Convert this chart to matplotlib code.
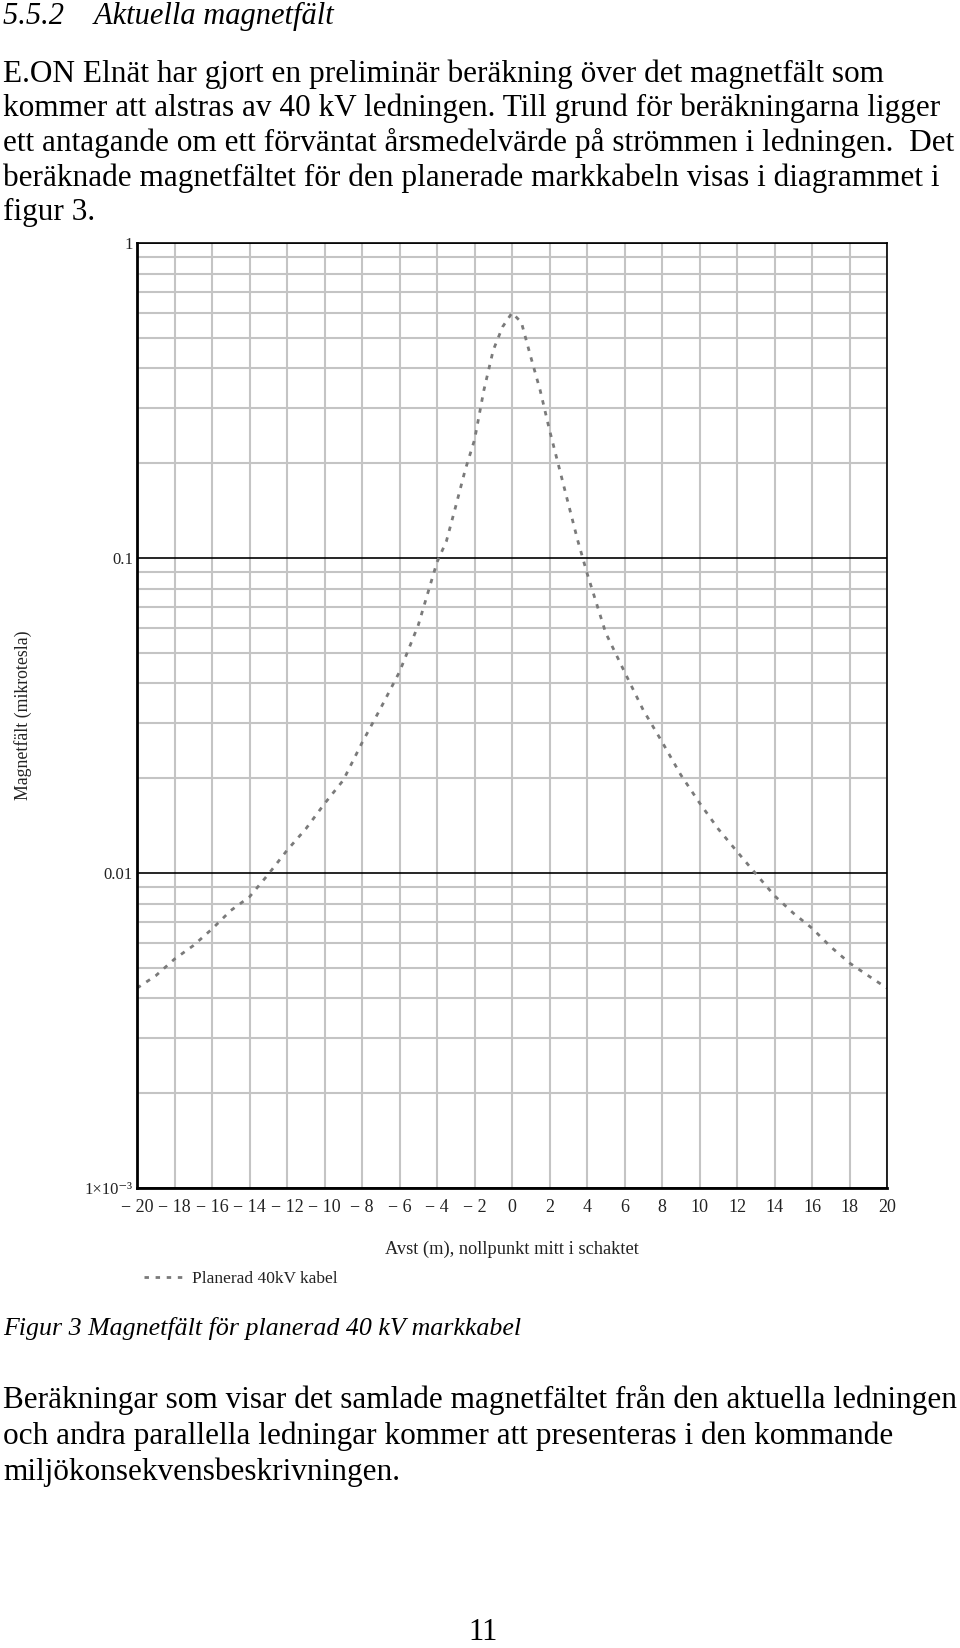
import matplotlib.pyplot as plt
from matplotlib.ticker import FixedLocator, LogLocator, NullFormatter

# Avstånd (m) och magnetfält (mikrotesla)
avst = [-20, -19, -18, -17, -16, -15, -14, -13, -12, -11, -10, -9, -8, -7, -6, -5, -4,
        -3.5, -3, -2.5, -2, -1.5, -1, -0.5, 0, 0.5, 1, 1.5, 2, 2.5, 3, 3.5,
        4, 5, 6, 7, 8, 9, 10, 11, 12, 13, 14, 15, 16, 17, 18, 19, 20]
falt = [0.00431, 0.00472, 0.00533, 0.00588, 0.00664, 0.0076, 0.0084, 0.0099, 0.0118,
        0.0138, 0.0166, 0.0197, 0.0259, 0.0334, 0.0435, 0.0612, 0.097,
        0.113, 0.146, 0.19, 0.237, 0.341, 0.457, 0.542, 0.6, 0.56, 0.435, 0.341,
        0.255, 0.195, 0.149, 0.114,
        0.0896, 0.0578, 0.0435, 0.0329, 0.0261, 0.0205, 0.0167, 0.0138, 0.0117,
        0.00995, 0.00847, 0.00746, 0.00668, 0.00583, 0.00518, 0.00472, 0.00431]

x_ticks = list(range(-20, 21, 2))
x_labels = ["\u2212 20", "\u2212 18", "\u2212 16", "\u2212 14", "\u2212 12", "\u2212 10",
            "\u2212 8", "\u2212 6", "\u2212 4", "\u2212 2", "0", "2", "4", "6", "8",
            "10", "12", "14", "16", "18", "20"]
y_ticks = [1e-3, 1e-2, 1e-1, 1]
y_labels = ["1\u00d710\u207b\u00b3", "0.01", "0.1", "1"]

serif = ["Liberation Serif", "DejaVu Serif"]
plt.rcParams["font.family"] = serif

fig = plt.figure(figsize=(9.6, 16.48), dpi=100)

# text ovanför diagrammet
fig.text(0.003, 1 - 16 / 1648, "5.5.2    Aktuella magnetfält", fontsize=22,
         style="italic", va="center", ha="left")
para1 = ["E.ON Elnät har gjort en preliminär beräkning över det magnetfält som",
         "kommer att alstras av 40 kV ledningen. Till grund för beräkningarna ligger",
         "ett antagande om ett förväntat årsmedelvärde på strömmen i ledningen.  Det",
         "beräknade magnetfältet för den planerade markkabeln visas i diagrammet i",
         "figur 3."]
for i, line in enumerate(para1):
    fig.text(0.003, 1 - (74 + 34.7 * i) / 1648, line, fontsize=22.5,
             va="center", ha="left")

ax = fig.add_axes([137 / 960, 1 - 1188 / 1648, 750 / 960, 945 / 1648])
ax.plot(avst, falt, color="#7a7a7a", lw=2.0, linestyle=(0, (1.6, 2.4)),
        label="Planerad 40kV kabel")
ax.set_yscale("log")
ax.set_xlim(-20, 20)
ax.set_ylim(1e-3, 1)

ax.xaxis.set_major_locator(FixedLocator(x_ticks))
ax.set_xticklabels(x_labels)
ax.yaxis.set_major_locator(FixedLocator(y_ticks))
ax.set_yticklabels(y_labels)
ax.yaxis.set_minor_locator(LogLocator(base=10, subs=range(2, 10)))
ax.yaxis.set_minor_formatter(NullFormatter())

ax.grid(True, which="major", axis="x", color="#c4c4c4", lw=1.5)
ax.grid(True, which="minor", axis="y", color="#c4c4c4", lw=1.5)
ax.grid(True, which="major", axis="y", color="black", lw=1.2)
ax.set_axisbelow(True)
ax.tick_params(which="both", length=0)
ax.tick_params(axis="x", labelsize=13, pad=8, colors="#222222")
ax.tick_params(axis="y", labelsize=12, pad=3, colors="#222222")
for side in ["left", "bottom"]:
    ax.spines[side].set_linewidth(2.0)
for side in ["top", "right"]:
    ax.spines[side].set_linewidth(1.2)

ax.set_xlabel("Avst (m), nollpunkt mitt i schaktet", fontsize=13.2, labelpad=18,
              color="#222222")
fig.text(23 / 960, 1 - 715 / 1648, "Magnetfält (mikrotesla)", rotation=90,
         fontsize=12.8, va="center", ha="center", color="#222222")
ax.legend(loc="center left", bbox_to_anchor=(128 / 960, 1 - 1279 / 1648),
          bbox_transform=fig.transFigure, frameon=False, fontsize=12.5,
          handlelength=2.2, handletextpad=0.6, labelcolor="#222222")

fig.text(0.003, 1 - 1329 / 1648, "Figur 3 Magnetfält för planerad 40 kV markkabel",
         fontsize=18.6, style="italic", va="center", ha="left")
para2 = ["Beräkningar som visar det samlade magnetfältet från den aktuella ledningen",
         "och andra parallella ledningar kommer att presenteras i den kommande",
         "miljökonsekvensbeskrivningen."]
for i, line in enumerate(para2):
    fig.text(0.003, 1 - (1400 + 36 * i) / 1648, line, fontsize=22.5,
             va="center", ha="left")
fig.text(483 / 960, 1 - 1633 / 1648, "11", fontsize=22, va="center", ha="center")

fig.savefig("out.png", dpi=100)
